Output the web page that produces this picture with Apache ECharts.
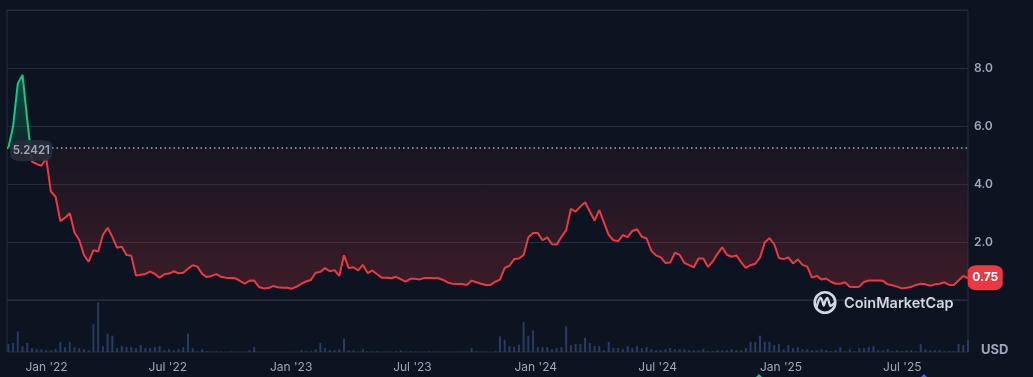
<!DOCTYPE html>
<html>
<head>
<meta charset="utf-8">
<script src="https://cdn.jsdelivr.net/npm/echarts@6/dist/echarts.min.js"></script>
<style>
html,body{margin:0;padding:0;background:#0d1421;}
#chart{width:1033px;height:377px;}
</style>
</head>
<body>
<div id="chart"></div>
<script>
// ---- data (weekly points, Nov 2021 -> Oct 2025) ----
const startDay = '2021-11-05';
const endDay = '2025-10-07';
const axisStart = '2021-11-03';
const axisEnd = '2025-10-07';
const basePrice = 5.2421;
const lastPrice = 0.75;

const prices = [
5.2421,5.98,7.47,7.76,6.2,4.77,4.69,4.63,4.89,3.74,
3.56,2.72,2.84,2.99,2.33,2.07,1.55,1.32,1.72,1.67,
2.24,2.49,2.18,1.80,1.84,1.55,1.53,0.84,0.87,0.90,
0.98,0.90,0.77,0.89,0.91,0.99,0.92,0.94,1.08,1.20,
1.15,0.90,0.79,0.83,0.89,0.80,0.77,0.76,0.75,0.66,
0.56,0.66,0.67,0.45,0.40,0.41,0.48,0.44,0.42,0.42,
0.39,0.46,0.56,0.64,0.69,0.94,0.97,1.10,0.99,1.03,
0.83,1.54,1.10,1.13,1.02,1.21,0.93,1.02,0.89,0.77,
0.77,0.75,0.80,0.72,0.63,0.73,0.73,0.71,0.76,0.76,
0.76,0.75,0.69,0.60,0.56,0.55,0.55,0.52,0.67,0.61,
0.56,0.52,0.52,0.63,0.70,1.11,1.18,1.41,1.43,1.55,
2.16,2.31,2.31,2.06,2.16,1.92,1.91,2.18,2.41,3.14,
3.05,3.22,3.37,3.05,2.74,3.10,2.67,2.24,2.06,2.03,
2.24,2.17,2.38,2.44,2.18,2.13,1.70,1.54,1.47,1.28,
1.29,1.63,1.56,1.28,1.20,1.13,1.43,1.43,1.14,1.33,
1.59,1.82,1.56,1.49,1.54,1.31,1.11,1.20,1.25,1.46,
1.98,2.13,1.93,1.45,1.41,1.47,1.26,1.40,1.21,1.15,
0.77,0.83,0.71,0.74,0.63,0.56,0.56,0.61,0.46,0.45,
0.46,0.62,0.67,0.67,0.67,0.66,0.54,0.51,0.46,0.40,
0.42,0.45,0.52,0.56,0.54,0.49,0.54,0.56,0.61,0.52,
0.52,0.67,0.83,0.75
];

const volumes = [
7.7,8.7,19.7,5.7,8.7,3.7,2.7,2.7,1.7,1.7,
3,9.7,4.7,9.7,4.7,3.7,2.7,1.7,26.7,47.7,
5.7,17.7,15.7,3.7,5.7,4.7,4.7,3.7,6.7,3.7,
3.7,4.7,5.7,1.7,2.7,1.7,2.7,4.7,17.7,3.7,
0.7,2.7,0.7,0.3,0.7,0.3,0.3,0.7,0.3,0.3,
0.3,1.7,4.7,0.2,0.2,0.2,0.2,0.2,0.2,0.2,
0.2,0.2,1.7,0.7,0.7,2.7,8.7,3.7,1.7,1.7,
2.7,12.7,1.7,1.7,0.3,2.7,0.7,0.7,0.7,0.3,
0.3,0.3,0.7,1.7,0.3,0.7,0.3,0.3,0.3,0.7,
0.3,0.3,0.3,0.3,0.3,0.3,0.3,0.3,3.7,0.7,
0.3,0.3,0.3,0.7,15,11.7,5.7,5,7,28.7,
15.7,20.7,4.7,4.7,4.7,2.7,3.7,4.7,24.7,6.7,
7.7,7.7,13.7,8.7,5.7,5.7,1.7,9.7,3.7,3.7,
2.7,5.7,3.7,5.7,3.7,4.7,2.7,1.7,1.7,2.7,
3.7,2.7,2.7,2.7,1.7,1.7,1.7,2.7,0.7,0.7,
1.7,1.7,1.7,2.7,1.7,1.7,3.7,9.7,9.7,15.7,
9.7,9.7,6.7,7.7,2.7,6.7,3.7,4.7,2.7,2.7,
1.7,1.7,2.7,1.7,0.7,1.7,4.7,0.7,2.7,0.7,
3.7,3.7,4.7,5.7,1.7,1.7,2.7,0.7,1.7,0.7,
1.7,1.7,0.7,7.7,2.7,1.7,1.7,1.7,0.7,0.7,
0.7,7.7,6.7,11.7
];

const tickDates = ['2022-01-01','2022-07-01','2023-01-01','2023-07-01','2024-01-01','2024-07-01','2025-01-01','2025-07-01'];
const tickLabels = ["Jan '22","Jul '22","Jan '23","Jul '23","Jan '24","Jul '24","Jan '25","Jul '25"];
const yTicks = [2, 4, 6, 8];

// ---- build ----
const ts = s => Date.parse(s + 'T00:00:00Z');
const t0 = ts(startDay), t1 = ts(endDay);
const n = prices.length;
const dates = prices.map((_, i) => t0 + (t1 - t0) * i / (n - 1));
const tickTs = tickDates.map(ts);

const GREEN = '#16c784', RED = '#ea3943';
const maxV = Math.max(...prices), minV = Math.min(...prices);
const f = (maxV - basePrice) / (maxV - minV);
const lineGrad = {type:'linear',x:0,y:0,x2:0,y2:1,colorStops:[
  {offset:0,color:GREEN},{offset:f,color:GREEN},{offset:f,color:RED},{offset:1,color:RED}]};
const areaGrad = {type:'linear',x:0,y:0,x2:0,y2:1,colorStops:[
  {offset:0,color:'rgba(22,199,132,0.45)'},{offset:f,color:'rgba(22,199,132,0.14)'},
  {offset:f,color:'rgba(234,57,67,0.06)'},{offset:1,color:'rgba(234,57,67,0.30)'}]};

const FONT = 'Inter, "Noto Sans", sans-serif';
const GRIDC = '#262b38';
const LABELC = '#a1a7bb';

const chart = echarts.init(document.getElementById('chart'), null, {renderer:'canvas'});
chart.setOption({
  backgroundColor:'#0d1421',
  animation:false,
  textStyle:{fontFamily:FONT},
  grid:[
    {left:7,right:65,top:10,height:290,show:true,borderColor:GRIDC,borderWidth:1},
    {left:7,right:65,top:300,height:52,show:true,borderColor:GRIDC,borderWidth:1}
  ],
  xAxis:[
    {type:'value',gridIndex:0,min:ts(axisStart),max:ts(axisEnd),show:false},
    {type:'value',gridIndex:1,min:ts(axisStart),max:ts(axisEnd),
     axisLine:{show:false},axisTick:{show:false},splitLine:{show:false},
     axisLabel:{show:true,customValues:tickTs,hideOverlap:false,margin:9,color:LABELC,fontSize:12,fontFamily:FONT,
       formatter:v=>{const k=tickTs.indexOf(v);return k>=0?tickLabels[k]:'';}}}
  ],
  yAxis:[
    {type:'value',gridIndex:0,position:'right',min:0,max:10,interval:2,
     axisLine:{show:false},axisTick:{show:false},
     splitLine:{show:true,lineStyle:{color:GRIDC,width:1}},
     axisLabel:{margin:6,color:LABELC,fontSize:12,fontWeight:600,fontFamily:FONT,
       formatter:v=>yTicks.includes(v)?v.toFixed(1):''}},
    {type:'value',gridIndex:1,min:0,max:50,show:false}
  ],
  series:[
    {type:'line',xAxisIndex:0,yAxisIndex:0,
     data:dates.map((d,i)=>[d,prices[i]]),
     showSymbol:false,symbol:'none',
     lineStyle:{width:2,color:lineGrad},
     areaStyle:{origin:basePrice,color:areaGrad},
     markLine:{silent:true,symbol:['none','none'],label:{show:false},z:3,
       lineStyle:{color:'rgba(215,220,230,0.75)',type:[1.5,3],width:1.5},
       data:[{yAxis:basePrice}]},
     markPoint:{silent:true,z:10,
       data:[
        {coord:[dates[0],basePrice],symbol:'roundRect',symbolSize:[42,21],symbolOffset:[23,2.5],
         itemStyle:{color:'rgba(40,44,56,0.92)'},
         label:{show:true,position:'inside',formatter:basePrice.toFixed(4),color:LABELC,fontSize:11.5,fontWeight:600,fontFamily:FONT}},
        {coord:[dates[n-1],lastPrice],symbol:'roundRect',symbolSize:[35,25],symbolOffset:[17.2,-0.5],
         itemStyle:{color:RED},
         label:{show:true,position:'inside',formatter:lastPrice.toFixed(2),color:'#ffffff',fontSize:12,fontWeight:700,fontFamily:FONT}}
       ]}
    },
    {type:'bar',xAxisIndex:1,yAxisIndex:1,
     data:dates.map((d,i)=>[d,volumes[i]]),
     barWidth:2,itemStyle:{color:'#2b3a62'}}
  ],
  graphic:[
    {type:'circle',shape:{cx:825,cy:302.5,r:10.3},style:{fill:'none',stroke:'#d3d7df',lineWidth:2.6},z:20},
    {type:'polyline',shape:{points:[[816.8,306.5],[818.5,301],[820.6,297.6],[822.4,301.5],[823.8,305.5],[825.5,300.5],[827.3,297.8],[828.8,301.5],[830.3,305.8],[832.5,304.8],[834,303.2]],smooth:0.35},
     style:{fill:'none',stroke:'#d3d7df',lineWidth:2.3,lineCap:'round',lineJoin:'round'},z:20},
    {type:'text',x:844,y:304,style:{text:'CoinMarketCap',fill:'#d3d7df',font:'600 14.5px '+FONT,textVerticalAlign:'middle'},z:20},
    {type:'text',x:981,y:350,style:{text:'USD',fill:LABELC,font:'700 13px '+FONT,textVerticalAlign:'middle'},z:20},
    {type:'polygon',shape:{points:[[759,374],[764,379],[759,384],[754,379]]},style:{fill:GREEN},z:20},
    {type:'polygon',shape:{points:[[924,374],[929,379],[924,384],[919,379]]},style:{fill:'#3861fb'},z:20}
  ]
});
</script>
</body>
</html>
